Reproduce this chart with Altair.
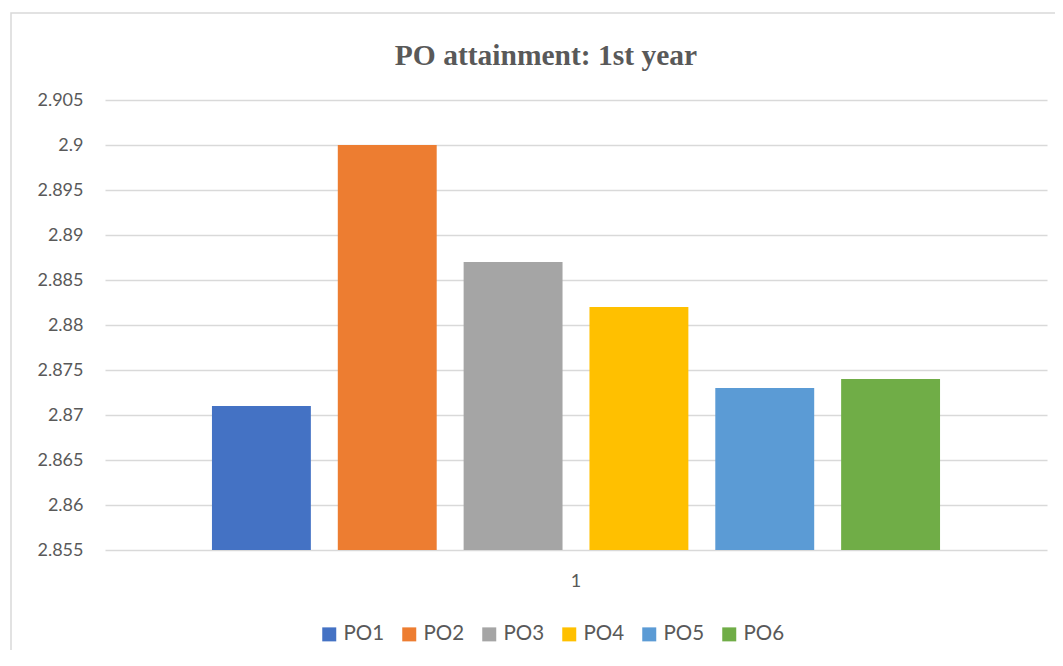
import altair as alt
import pandas as pd

categories = ["PO1", "PO2", "PO3", "PO4", "PO5", "PO6"]
values = [2.871, 2.900, 2.887, 2.882, 2.873, 2.874]
group_labels = ["1"] * 6
colors = ["#4472C4", "#ED7D31", "#A5A5A5", "#FFC000", "#5B9BD5", "#70AD47"]
y_ticks = [2.855, 2.86, 2.865, 2.87, 2.875, 2.88, 2.885, 2.89, 2.895, 2.9, 2.905]
title_text = "PO attainment: 1st year"

df = pd.DataFrame({"grp": group_labels, "PO": categories, "value": values})

W, H = 942, 450
FONT = "Lato"
TXT = "#595959"

bars = alt.Chart(df).mark_bar().encode(
    x=alt.X("grp:N", title=None, scale=alt.Scale(paddingInner=0, paddingOuter=0),
            axis=alt.Axis(labelAngle=0, domain=False, ticks=False, labelPadding=22,
                          labelFontSize=18, labelColor=TXT, labelFont=FONT, grid=False)),
    xOffset=alt.XOffset("PO:N", sort=categories,
                        scale=alt.Scale(paddingInner=0.214, paddingOuter=0.85)),
    y=alt.Y("value:Q", title=None,
            scale=alt.Scale(domain=[2.855, 2.905], zero=False, nice=False),
            axis=alt.Axis(values=y_ticks, domain=False, ticks=False, labelPadding=22,
                          labelFontSize=18, labelColor=TXT, labelFont=FONT,
                          gridColor="#D9D9D9", gridWidth=1.5,
                          labelExpr="format(datum.value, '.4~f')")),
    y2=alt.Y2(datum=2.855),
    color=alt.Color("PO:N", sort=categories,
                    scale=alt.Scale(domain=categories, range=colors),
                    legend=alt.Legend(title=None, orient="none", direction="horizontal",
                                      legendX=214, legendY=524, symbolType="square",
                                      symbolSize=196, symbolStrokeWidth=0,
                                      labelFontSize=20.5, labelColor=TXT, labelFont=FONT,
                                      columnPadding=14, labelOffset=4, padding=0)),
)

frame = alt.Chart(pd.DataFrame({"a": [0]})).mark_rect(
    fill=None, stroke="#D9D9D9", strokeWidth=1.5
).encode(
    x=alt.value(-94), x2=alt.value(W + 40), y=alt.value(-87), y2=alt.value(H + 140)
)

title = alt.Chart(pd.DataFrame({"t": [title_text]})).mark_text(
    font="Liberation Serif", fontSize=29.5, fontWeight="bold", color=TXT,
    align="center", baseline="alphabetic"
).encode(
    text="t:N", x=alt.value(441), y=alt.value(-35)
)

chart = alt.layer(frame, title, bars).properties(
    width=W, height=H,
    autosize=alt.AutoSizeParams(type="none"),
    padding={"left": 97, "top": 92, "right": 8, "bottom": 100},
    background="white",
).configure_view(strokeWidth=0, stroke="transparent")

chart.save("out.html", embed_options={"renderer": "svg", "actions": False})
